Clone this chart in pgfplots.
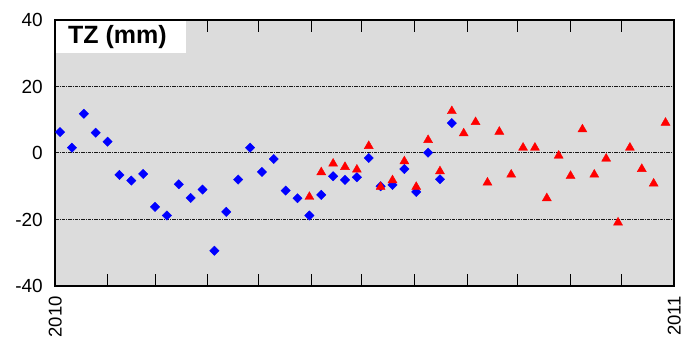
\documentclass[border=0pt]{standalone}
\usepackage{pgfplots}
\pgfplotsset{compat=1.18}
\usepackage{fontspec}
\setmainfont{Liberation Sans}
\definecolor{bg}{RGB}{220,220,220}
\begin{document}
\begin{tikzpicture}[x=1pt,y=1pt]
\useasboundingbox (0,0) rectangle (683,339);
\begin{axis}[
  at={(55pt,53pt)}, anchor=south west,
  width=619pt, height=266pt, scale only axis,
  xmin=0, xmax=365, ymin=-40, ymax=40,
  axis background/.style={fill=bg},
  xtick={0,31,59,90,120,151,181,212,243,273,304,334,365},
  xticklabels={2010,,,,,,,,,,,,2011},
  ytick={-40,-20,0,20,40},
  tick align=inside,
  major tick length=12pt,
  xtick style={black, line width=1pt},
  ytick style={draw=none},
  ymajorgrids,
  grid style={black!90, line width=1pt, dash pattern=on 3.5pt off 1pt on 1pt off 1pt},
  axis line style={black, line width=1.2pt},
  tick label style={font=\fontsize{19}{22}\selectfont, black, inner sep=0pt,
    text height=13.6pt, text depth=0pt},
  /pgf/number format/assume math mode=true,
  xticklabel style={rotate=90, anchor=east, xshift=-1pt, font=\fontsize{18.5}{22}\selectfont,
    text height=13.2pt},
  xticklabel shift=9pt,
  yticklabel shift=12pt,
  clip=false,
]
\addplot[only marks, mark=square*, mark size=3.3pt, color=blue,
  mark options={rotate=45, fill=blue, draw=blue}] coordinates {
(3,6.3) (10,1.6) (17,11.8) (24,6.1) (31,3.4) (38,-6.6) (45,-8.3) (52,-6.3)
(59,-16.2) (66,-18.8) (73,-9.4) (80,-13.5) (87,-11.0) (94,-29.4) (101,-17.7)
(108,-8.0) (115,1.6) (122,-5.7) (129,-1.8) (136,-11.3) (143,-13.6) (150,-18.8)
(157,-12.6) (164,-7.0) (171,-8.1) (178,-7.3) (185,-1.5) (192,-10.0) (199,-9.6)
(206,-4.8) (213,-11.7) (220,0.1) (227,-7.9) (234,9.0)
};
\addplot[only marks, mark=triangle*, mark size=5.2pt, color=red,
  mark options={fill=red, draw=red}] coordinates {
(150,-13.2) (157,-5.8) (164,-3.2) (171,-4.2) (178,-5.0) (185,2.1) (192,-10.2)
(199,-8.2) (206,-2.5) (213,-10.2) (220,3.9) (227,-5.5) (234,12.6) (241,5.9)
(248,9.3) (255,-8.9) (262,6.4) (269,-6.5) (276,1.6) (283,1.6) (290,-13.6)
(297,-0.8) (304,-6.9) (311,7.1) (318,-6.5) (325,-1.7) (332,-20.9) (339,1.6)
(346,-4.8) (353,-9.2) (360,9.1)
};
\fill[white] ([xshift=0.6pt,yshift=-0.6pt]rel axis cs:0,1) rectangle (rel axis cs:0.2116,0.876);
\node[anchor=west, inner sep=0pt, font=\fontsize{25}{29}\selectfont\bfseries]
  at (rel axis cs:0.021,0.935) {TZ (mm)};
\end{axis}
\end{tikzpicture}
\end{document}
